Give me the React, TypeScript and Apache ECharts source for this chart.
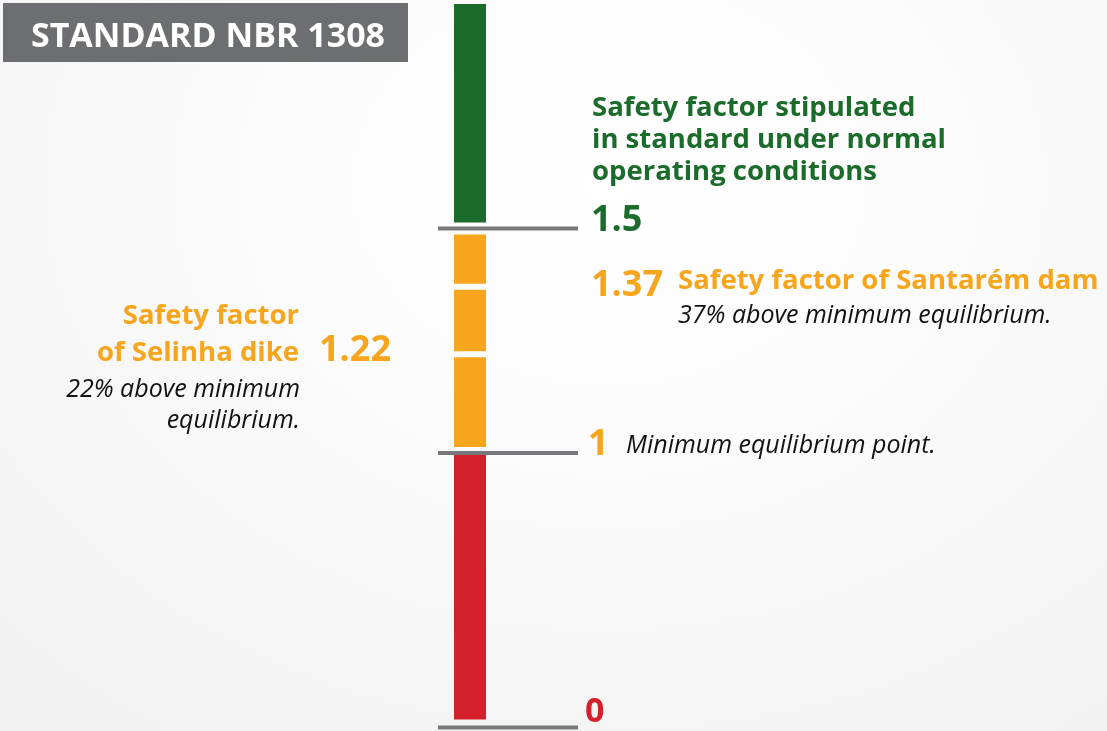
import React, { useEffect, useRef } from 'react';
import * as echarts from 'echarts';

// ---- data ----
const categoryName = ['NBR 1308'];
const zoneNames = ['Below equilibrium', 'Selinha dike band', 'Santarém dam band', 'Upper band', 'Stipulated'];
const zoneStart = [0, 1, 1.22, 1.37, 1.5];
const zoneEnd = [1, 1.22, 1.37, 1.5, 2];
const referenceTicks = [0, 1, 1.5];
const tickLabels = ['0', '1', '1.5'];
const structureNames = ['Selinha dike', 'Santarém dam'];
const structureFactors = [1.22, 1.37];
const gridRanges = [
  [0, 1],
  [1, 2],
];

// ---- styles ----
const GREEN = '#1b6b2b';
const ORANGE = '#f7a51c';
const RED = '#d4202a';
const GRAY = '#77787b';
const zoneColors = [RED, ORANGE, ORANGE, ORANGE, GREEN];
const tickColors = [RED, ORANGE, GREEN];
const FONT = '"Open Sans", "DejaVu Sans", sans-serif';

function zoneRender(axisMax: number) {
  return (params: any, api: any) => {
    const s = api.value(1) as number;
    const e = api.value(2) as number;
    const idx = api.value(3) as number;
    const bottom = api.coord([0, s]);
    const top = api.coord([0, e]);
    const bw = api.size([1, 0])[0];
    const gap = (v: number, isTop: boolean) => {
      if (isTop && v === axisMax) return 0;
      if (referenceTicks.indexOf(v) >= 0) return v === 0 ? 8 : 6;
      return 3;
    };
    const y1 = top[1] + gap(e, true);
    const y2 = bottom[1] - gap(s, false);
    return {
      type: 'rect',
      shape: { x: bottom[0] - bw / 2, y: y1, width: bw, height: y2 - y1 },
      style: { fill: zoneColors[idx] },
    };
  };
}

function tickRender(params: any, api: any) {
  const p = api.coord([0, api.value(1)]);
  const bw = api.size([1, 0])[0];
  return {
    type: 'line',
    shape: { x1: p[0] - bw, y1: p[1], x2: p[0] + bw * 3.375, y2: p[1] },
    style: { stroke: GRAY, lineWidth: 4 },
  };
}

export default function App() {
  const ref = useRef<HTMLDivElement>(null);

  useEffect(() => {
    if (!ref.current) return;
    const chart = echarts.init(ref.current, null, { renderer: 'svg' });

    const grids = [
      { left: 454, width: 32, top: 453, height: 274.5, outerBoundsMode: 'none' },
      { left: 454, width: 32, top: 4, height: 449, outerBoundsMode: 'none' },
    ];

    const series: any[] = [];
    gridRanges.forEach((rng, gi) => {
      const zoneData: number[][] = [];
      zoneStart.forEach((s, i) => {
        if (s >= rng[0] && zoneEnd[i] <= rng[1]) zoneData.push([0, s, zoneEnd[i], i]);
      });
      series.push({
        type: 'custom',
        name: 'zones-' + gi,
        xAxisIndex: gi,
        yAxisIndex: gi,
        renderItem: zoneRender(rng[1]),
        encode: { x: 0, y: [1, 2] },
        data: zoneData,
        silent: true,
      });
      const tickData: number[][] = [];
      referenceTicks.forEach((t) => {
        const inRange = gi === 0 ? t >= rng[0] && t <= rng[1] : t > rng[0] && t <= rng[1];
        if (inRange) tickData.push([0, t]);
      });
      series.push({
        type: 'custom',
        name: 'ticks-' + gi,
        xAxisIndex: gi,
        yAxisIndex: gi,
        renderItem: tickRender,
        encode: { x: 0, y: 1 },
        data: tickData,
        silent: true,
        z: 3,
      });
    });

    const txt = (
      text: string,
      x: number,
      y: number,
      fill: string,
      size: number,
      style: string,
      align = 'left',
      lineHeight?: number
    ) => ({
      type: 'text',
      x,
      y,
      silent: true,
      style: {
        text,
        fill,
        font: `${style} ${size}px ${FONT}`,
        lineHeight: lineHeight || Math.round(size * 0.95),
        textAlign: align,
        textVerticalAlign: 'middle',
      },
    });

    const B = 27.5;
    const N = 36;
    const I = 25;

    const graphic: any[] = [
      { type: 'rect', shape: { x: 3, y: 3, width: 405, height: 59 }, style: { fill: '#6d6e71' }, silent: true },
      txt('STANDARD NBR 1308', 208, 34, '#ffffff', 34, 'bold', 'center'),
      txt('Safety factor stipulated\nin standard under normal\noperating conditions', 592, 137, GREEN, B, 'bold', 'left', 32),
      txt(tickLabels[2], 591, 217, tickColors[2], N, 'bold'),
      txt(structureFactors[1].toFixed(2), 591, 282, ORANGE, N, 'bold'),
      txt('Safety factor of ' + structureNames[1], 678, 278, ORANGE, B, 'bold'),
      txt('37% above minimum equilibrium.', 678, 313, '#111111', I, 'italic'),
      txt('Safety factor\nof ' + structureNames[0], 299, 331.5, ORANGE, B, 'bold', 'right', 37),
      txt(structureFactors[0].toFixed(2), 319, 347, ORANGE, N, 'bold'),
      txt('22% above minimum\nequilibrium.', 300, 402.5, '#111111', I, 'italic', 'right', 31),
      txt(tickLabels[1], 588, 441, tickColors[1], N, 'bold'),
      txt('Minimum equilibrium point.', 626, 443, '#111111', I, 'italic'),
      txt(tickLabels[0], 585, 709, tickColors[0], 34, 'bold'),
    ];

    chart.setOption({
      animation: false,
      backgroundColor: 'transparent',
      grid: grids,
      xAxis: grids.map((_, i) => ({
        type: 'category',
        gridIndex: i,
        data: categoryName,
        show: false,
        boundaryGap: true,
      })),
      yAxis: gridRanges.map((rng, i) => ({
        type: 'value',
        gridIndex: i,
        min: rng[0],
        max: rng[1],
        show: false,
        splitLine: { show: false },
      })),
      series,
      graphic,
    });

    return () => chart.dispose();
  }, []);

  return (
    <div
      style={{
        position: 'fixed',
        left: 0,
        top: 0,
        width: 1107,
        height: 731,
        background: 'radial-gradient(ellipse 75% 90% at 55% 25%, #ffffff 0%, #fbfbfb 45%, #f2f2f2 100%)',
      }}
    >
      <div ref={ref} style={{ width: 1107, height: 731 }} />
    </div>
  );
}
